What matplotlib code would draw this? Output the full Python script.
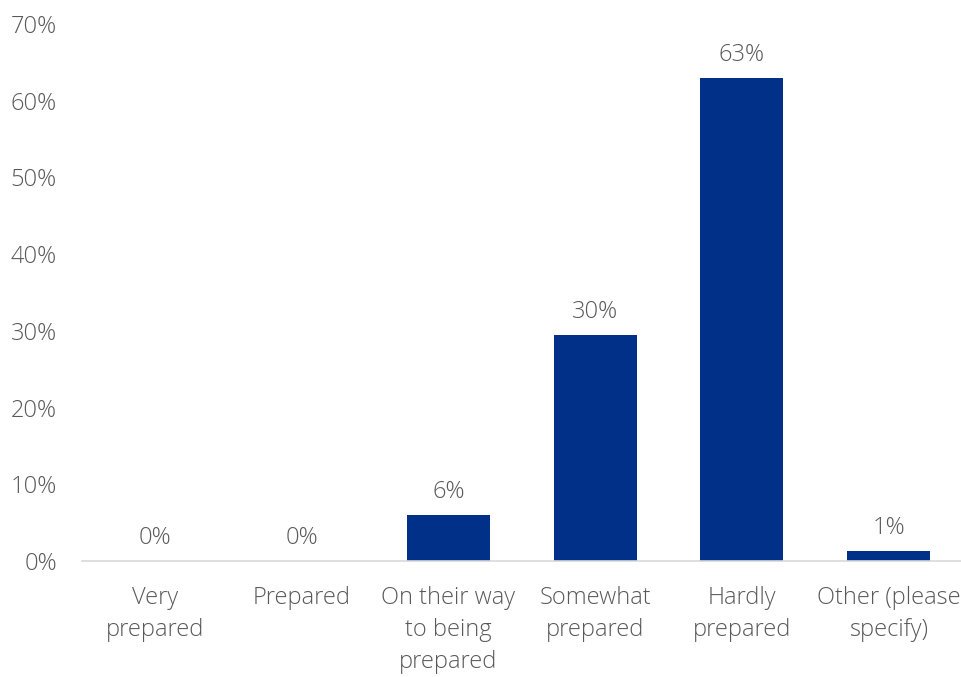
import matplotlib
matplotlib.use("Agg")
import matplotlib.pyplot as plt

categories = ["Very\nprepared", "Prepared", "On their way\nto being\nprepared",
              "Somewhat\nprepared", "Hardly\nprepared", "Other (please\nspecify)"]
values = [0, 0, 6.0, 29.5, 63.0, 1.3]
labels = ["0%", "0%", "6%", "30%", "63%", "1%"]
yticks = [0, 10, 20, 30, 40, 50, 60, 70]

bar_color = "#003087"
text_color = "#595959"

plt.rcParams["font.family"] = ["Open Sans", "DejaVu Sans"]

fig = plt.figure(figsize=(9.62, 6.77), dpi=100)
ax = fig.add_axes([0.085, 0.1713, 0.915, 0.7932])

x = range(len(categories))
ax.bar(x, values, width=0.565, color=bar_color, zorder=2)

for i, (v, lab) in enumerate(zip(values, labels)):
    ax.text(i, v + 2.2, lab, ha="center", va="baseline", fontsize=17,
            color=text_color, fontweight="light")

ax.set_xlim(-0.5, len(categories) - 0.5)
ax.set_ylim(0, 70)
ax.set_yticks(yticks)
ax.set_yticklabels([f"{t}%" for t in yticks], fontsize=17, color=text_color,
                   fontweight="light")
ax.set_xticks(list(x))
ax.set_xticklabels(categories, fontsize=17, color=text_color, fontweight="light",
                   va="top", linespacing=1.45)
ax.tick_params(axis="both", length=0)
ax.tick_params(axis="x", pad=18)
ax.tick_params(axis="y", pad=18)

for side in ["top", "right", "left"]:
    ax.spines[side].set_visible(False)
ax.spines["bottom"].set_color("#d9d9d9")
ax.spines["bottom"].set_linewidth(1.2)

fig.savefig("out.png", dpi=100)
